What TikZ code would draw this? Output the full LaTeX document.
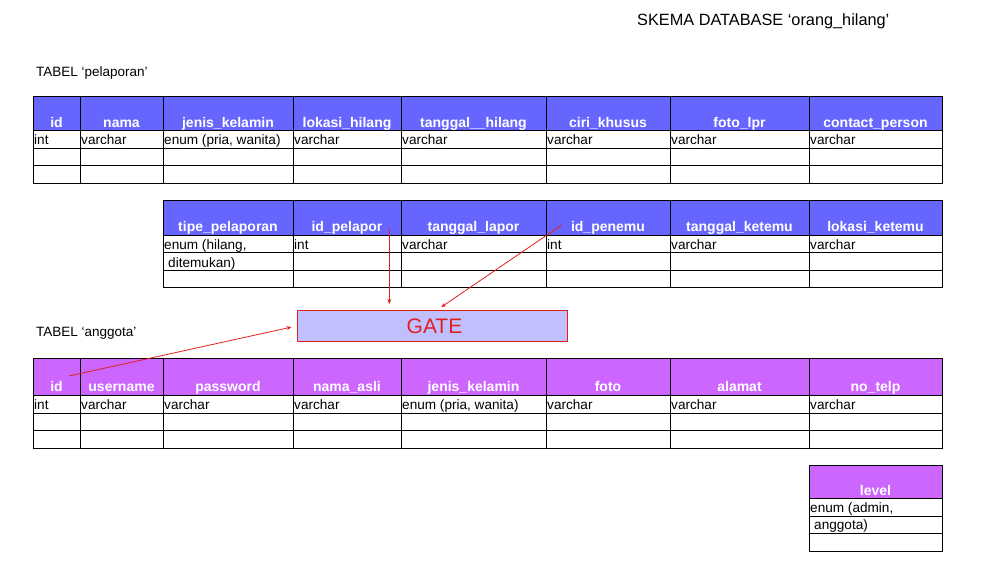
\documentclass[tikz,border=0pt]{standalone}
\usepackage{fontspec}
\setmainfont{Liberation Sans}
\usetikzlibrary{arrows.meta}
\definecolor{hdrblue}{HTML}{6666FF}
\definecolor{hdrpurple}{HTML}{CC66FF}
\definecolor{gatefill}{HTML}{C0C0FF}
\definecolor{fkred}{HTML}{E02020}
\tikzset{
  hdr/.style={anchor=base, inner sep=0pt, text=white, font=\fontsize{14}{16}\selectfont\bfseries},
  val/.style={anchor=base west, inner sep=0pt, font=\fontsize{13.6}{16}\selectfont},
  tbltitle/.style={anchor=base west, inner sep=0pt, font=\fontsize{13.5}{16}\selectfont},
  tblline/.style={line width=1pt},
  fk/.style={draw=fkred, line width=0.8pt, -{Stealth[length=5pt,width=4pt]}},
}
\begin{document}
\begin{tikzpicture}[x=1pt,y=-1pt]
    \useasboundingbox (0,0) rectangle (986,588);
    \node[anchor=base west, inner sep=0pt, font=\fontsize{16.3}{18}\selectfont] (title) at (637,26) {SKEMA DATABASE ‘orang\_hilang’};
    \node[tbltitle] (lbl-pel) at (36,77) {TABEL ‘pelaporan’};
    \node[tbltitle] (lbl-ang) at (36,337) {TABEL ‘anggota’};

    % tabel pelaporan, bagian atas
    \fill[hdrblue] (33,97) rectangle (942,131);
    \draw[tblline] (33,97) rectangle (942,184);
    \foreach \y in {131,149,166} \draw[tblline] (33,\y) -- (942,\y);
    \foreach \x in {80,163,293,401,546,670,809} \draw[tblline] (\x,97) -- (\x,184);
    \foreach \a/\b/\n/\h/\v in {33/80/id/id/int, 80/163/nama/nama/varchar,
        163/293/jk/jenis\_kelamin/{enum (pria, wanita)}, 293/401/lokasi/lokasi\_hilang/varchar,
        401/546/tgl/tanggal\_\_hilang/varchar, 546/670/ciri/ciri\_khusus/varchar,
        670/809/foto/foto\_lpr/varchar, 809/942/cp/contact\_person/varchar} {
      \node[hdr] (pel-\n) at ({(\a+\b)/2},127.3) {\h};
      \node[val] (pel-\n-t) at (\a+1,145) {\v};
    }

    % tabel pelaporan, bagian bawah
    \fill[hdrblue] (163,201) rectangle (942,236);
    \draw[tblline] (163,201) rectangle (942,288);
    \foreach \y in {236,253,271} \draw[tblline] (163,\y) -- (942,\y);
    \foreach \x in {293,401,546,670,809} \draw[tblline] (\x,201) -- (\x,288);
    \foreach \a/\b/\n/\h/\v in {163/293/tipe/tipe\_pelaporan/{enum (hilang,}, 293/401/pelapor/id\_pelapor/int,
        401/546/tgllapor/tanggal\_lapor/varchar, 546/670/penemu/id\_penemu/int,
        670/809/tglketemu/tanggal\_ketemu/varchar, 809/942/lokketemu/lokasi\_ketemu/varchar} {
      \node[hdr] (pel-\n) at ({(\a+\b)/2},231.7) {\h};
      \node[val] (pel-\n-t) at (\a+1,249.5) {\v};
    }
    \node[val] (pel-tipe-t2) at (168,267.3) {ditemukan)};

    % tabel anggota
    \fill[hdrpurple] (33,358) rectangle (942,395);
    \draw[tblline] (33,358) rectangle (942,448);
    \foreach \y in {395,413,430} \draw[tblline] (33,\y) -- (942,\y);
    \foreach \x in {80,163,293,401,546,670,809} \draw[tblline] (\x,358) -- (\x,448);
    \foreach \a/\b/\n/\h/\v in {33/80/id/id/int, 80/163/user/username/varchar,
        163/293/pass/password/varchar, 293/401/nama/nama\_asli/varchar,
        401/546/jk/jenis\_kelamin/{enum (pria, wanita)}, 546/670/foto/foto/varchar,
        670/809/alamat/alamat/varchar, 809/942/telp/no\_telp/varchar} {
      \node[hdr] (ang-\n) at ({(\a+\b)/2},391.7) {\h};
      \node[val] (ang-\n-t) at (\a+1,409) {\v};
    }

    % kolom level
    \fill[hdrpurple] (809,465) rectangle (942,498);
    \draw[tblline] (809,465) rectangle (942,551);
    \foreach \y in {498,516,533} \draw[tblline] (809,\y) -- (942,\y);
    \node[hdr] (ang-level) at (875.5,495) {level};
    \node[val] (ang-level-t) at (810,512.3) {enum (admin,};
    \node[val] (ang-level-t2) at (814,529.3) {anggota)};

    % gate
    \node[draw=fkred, fill=gatefill, line width=1pt, minimum width=270pt, minimum height=31pt,
      inner sep=0pt, text=fkred, font=\fontsize{21}{23}\selectfont] (gate) at (432,326) {\hspace*{5pt}GATE};

    \coordinate (fk-pelapor) at (389.3,229);
    \coordinate (fk-penemu) at (561.7,225);
    \coordinate (fk-id) at (69,376);
    \draw[fk, shorten >=6pt] (fk-pelapor) -- (gate.north -| fk-pelapor);
    \draw[fk, shorten >=5pt] (fk-penemu) -- ([xshift=5pt]gate.north);
    \draw[fk, shorten >=5pt] (fk-id) -- (gate.west);
\end{tikzpicture}
\end{document}
